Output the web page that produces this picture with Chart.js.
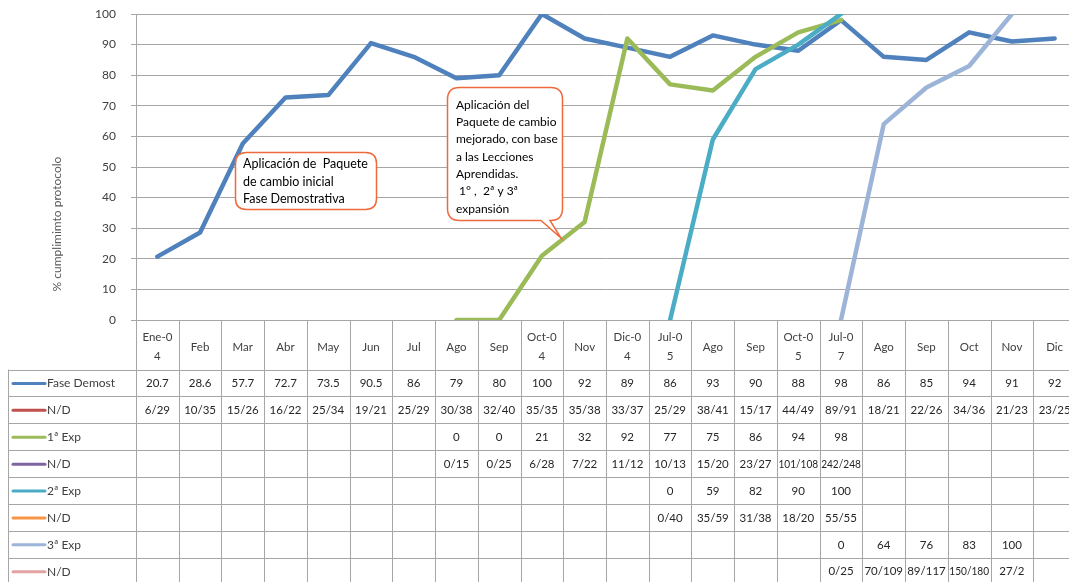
<!DOCTYPE html>
<html><head><meta charset="utf-8">
<script src="https://cdn.jsdelivr.net/npm/chart.js@4"></script>
<style>
html,body{margin:0;padding:0;overflow:hidden;background:#fff;width:1069px;height:582px}
#wrap{position:absolute;left:0;top:0;width:1076px;height:582px}
</style>
</head><body>
<div id="wrap"><canvas id="c" width="1076" height="582"></canvas></div>
<script>
const categories = [['Ene-0','4'],'Feb','Mar','Abr','May','Jun','Jul','Ago','Sep',['Oct-0','4'],'Nov',['Dic-0','4'],['Jul-0','5'],'Ago','Sep',['Oct-0','5'],['Jul-0','7'],'Ago','Sep','Oct','Nov','Dic'];
const yTicks = [0,10,20,30,40,50,60,70,80,90,100];

const faseDemost = [20.7,28.6,57.7,72.7,73.5,90.5,86,79,80,100,92,89,86,93,90,88,98,86,85,94,91,92];
const faseND = ['6/29','10/35','15/26','16/22','25/34','19/21','25/29','30/38','32/40','35/35','35/38','33/37','25/29','38/41','15/17','44/49','89/91','18/21','22/26','34/36','21/23','23/25'];

const exp1 = [null,null,null,null,null,null,null,0,0,21,32,92,77,75,86,94,98,null,null,null,null,null];
const exp1ND = ['','','','','','','','0/15','0/25','6/28','7/22','11/12','10/13','15/20','23/27','101/108','242/248','','','','',''];

const exp2 = [null,null,null,null,null,null,null,null,null,null,null,null,0,59,82,90,100,null,null,null,null,null];
const exp2ND = ['','','','','','','','','','','','','0/40','35/59','31/38','18/20','55/55','','','','',''];

const exp3 = [null,null,null,null,null,null,null,null,null,null,null,null,null,null,null,null,0,64,76,83,100,null];
const exp3ND = ['','','','','','','','','','','','','','','','','0/25','70/109','89/117','150/180','27/2',''];

const seriesNames = ['Fase Demost','N/D','1ª Exp','N/D','2ª Exp','N/D','3ª Exp','N/D'];
const seriesColors = ['#4F81BD','#C0504D','#9BBB59','#8064A2','#4BACC6','#F79646','#9DB4D9','#E4A3A3'];

const yTitle = '% cumplimimto protocolo';
const callout1 = ['Aplicación de  Paquete','de cambio inicial','Fase Demostrativa'];
const callout2 = ['Aplicación del','Paquete de cambio','mejorado, con base','a las Lecciones','Aprendidas.',' 1° ,  2ª y 3ª','expansión'];

const FONT = 'Lato, "DejaVu Sans", sans-serif';
const fmt = v => (v === null || v === undefined) ? '' : String(v);

const tableRows = [
  faseDemost.map(fmt), faseND,
  exp1.map(fmt), exp1ND,
  exp2.map(fmt), exp2ND,
  exp3.map(fmt), exp3ND
];

function roundRectPath(ctx, x, y, w, h, r){
  ctx.beginPath();
  ctx.moveTo(x+r, y);
  ctx.lineTo(x+w-r, y);
  ctx.quadraticCurveTo(x+w, y, x+w, y+r);
  ctx.lineTo(x+w, y+h-r);
  ctx.quadraticCurveTo(x+w, y+h, x+w-r, y+h);
  ctx.lineTo(x+r, y+h);
  ctx.quadraticCurveTo(x, y+h, x, y+h-r);
  ctx.lineTo(x, y+r);
  ctx.quadraticCurveTo(x, y, x+r, y);
  ctx.closePath();
}

const decorPlugin = {
  id: 'decor',
  afterDatasetsDraw(chart){
    const ctx = chart.ctx;
    ctx.save();
    // callout 1
    roundRectPath(ctx, 235.5, 152.5, 141, 57, 11);
    ctx.fillStyle = '#fff'; ctx.fill();
    ctx.strokeStyle = '#EE6A3C'; ctx.lineWidth = 1.5; ctx.stroke();
    ctx.fillStyle = '#000'; ctx.font = '12.5px ' + FONT; ctx.textBaseline = 'middle'; ctx.textAlign = 'left';
    callout1.forEach((t,i)=> ctx.fillText(t, 243, 164 + i*17.5));
    // callout 2 with tail
    const bx=447.5, by=87.5, bw=115, bh=133, r=12;
    ctx.beginPath();
    ctx.moveTo(bx+r, by);
    ctx.lineTo(bx+bw-r, by);
    ctx.quadraticCurveTo(bx+bw, by, bx+bw, by+r);
    ctx.lineTo(bx+bw, by+bh-r);
    ctx.quadraticCurveTo(bx+bw, by+bh, bx+bw-r, by+bh);
    ctx.lineTo(550, by+bh);
    ctx.lineTo(561, 238);
    ctx.lineTo(541, by+bh);
    ctx.lineTo(bx+r, by+bh);
    ctx.quadraticCurveTo(bx, by+bh, bx, by+bh-r);
    ctx.lineTo(bx, by+r);
    ctx.quadraticCurveTo(bx, by, bx+r, by);
    ctx.closePath();
    ctx.fillStyle = '#fff'; ctx.fill();
    ctx.strokeStyle = '#EE6A3C'; ctx.lineWidth = 1.5; ctx.stroke();
    ctx.fillStyle = '#000'; ctx.font = '12px ' + FONT;
    callout2.forEach((t,i)=> ctx.fillText(t, 456, 105 + i*17.3));
    ctx.restore();
  },
  afterDraw(chart){
    const ctx = chart.ctx;
    const xs = chart.scales.x;
    const area = chart.chartArea;
    const cw = xs.getPixelForValue(1) - xs.getPixelForValue(0);
    const top = area.bottom;
    const headBottom = 369.5;
    const rowH = 26.9;
    const H = chart.height;
    ctx.save();
    // y axis title
    ctx.fillStyle = '#595959';
    ctx.font = '12px ' + FONT;
    ctx.textAlign = 'center'; ctx.textBaseline = 'middle';
    ctx.translate(57, 224); ctx.rotate(-Math.PI/2);
    ctx.fillText(yTitle, 0, 0);
    ctx.setTransform(1,0,0,1,0,0);
    ctx.scale(chart.currentDevicePixelRatio, chart.currentDevicePixelRatio);
    // grid lines
    ctx.strokeStyle = '#A6A6A6'; ctx.lineWidth = 1;
    for (let i = 0; i <= categories.length; i++){
      const bx = Math.round(xs.getPixelForValue(0) - cw/2 + i*cw) + 0.5;
      ctx.beginPath(); ctx.moveTo(bx, top); ctx.lineTo(bx, H); ctx.stroke();
    }
    for (let r = 0; r <= tableRows.length; r++){
      const y = Math.round(headBottom + r*rowH) + 0.5;
      ctx.beginPath(); ctx.moveTo(8, y); ctx.lineTo(area.right, y); ctx.stroke();
    }
    ctx.beginPath(); ctx.moveTo(8.5, headBottom); ctx.lineTo(8.5, H); ctx.stroke();
    // header labels
    ctx.fillStyle = '#404040';
    ctx.font = '11.5px ' + FONT;
    ctx.textAlign = 'center'; ctx.textBaseline = 'middle';
    categories.forEach((c, i) => {
      const px = xs.getPixelForValue(i);
      if (Array.isArray(c)){
        ctx.fillText(c[0], px, 337);
        ctx.fillText(c[1], px, 356);
      } else {
        ctx.fillText(c, px, 347);
      }
    });
    // rows
    tableRows.forEach((row, r) => {
      const cy = headBottom + r*rowH + rowH/2 + 0.5;
      ctx.textAlign = 'center';
      ctx.fillStyle = '#262626';
      ctx.font = '11.5px ' + FONT;
      row.forEach((v, i) => { if (v) ctx.fillText(v, xs.getPixelForValue(i), cy, cw - 3); });
      // legend key
      ctx.strokeStyle = seriesColors[r]; ctx.lineWidth = 3; ctx.lineCap = 'round';
      ctx.beginPath(); ctx.moveTo(13, cy); ctx.lineTo(45, cy); ctx.stroke();
      ctx.textAlign = 'left'; ctx.fillStyle = '#404040';
      ctx.font = '12px ' + FONT;
      ctx.fillText(seriesNames[r], 47, cy);
    });
    ctx.restore();
  }
};

const lineDS = (label, data, color, order) => ({
  label, data, borderColor: color, backgroundColor: color, order,
  borderWidth: 4.5, pointRadius: 0, pointHoverRadius: 0, tension: 0,
  borderCapStyle: 'round', borderJoinStyle: 'round', spanGaps: false, fill: false
});

new Chart(document.getElementById('c'), {
  type: 'line',
  data: {
    labels: categories,
    datasets: [
      lineDS(seriesNames[0], faseDemost, seriesColors[0], 4),
      lineDS(seriesNames[2], exp1, seriesColors[2], 3),
      lineDS(seriesNames[4], exp2, seriesColors[4], 2),
      lineDS(seriesNames[6], exp3, seriesColors[6], 1)
    ]
  },
  options: {
    responsive: false,
    animation: false,
    layout: { padding: { top: 14, bottom: 262, left: 0, right: 0 } },
    plugins: { legend: { display: false }, tooltip: { enabled: false } },
    scales: {
      x: { display: false, offset: true },
      y: {
        min: yTicks[0], max: yTicks[yTicks.length-1],
        afterBuildTicks: s => { s.ticks = yTicks.map(v => ({ value: v })); },
        ticks: { color: '#404040', font: { family: FONT, size: 12 }, padding: 15 },
        grid: { color: '#A6A6A6', lineWidth: 1, tickLength: 5 },
        border: { color: '#A6A6A6' },
        afterFit: s => { s.width = 136; s.paddingTop = 0; s.paddingBottom = 0; }
      }
    }
  },
  plugins: [decorPlugin]
});
</script>
</body></html>
